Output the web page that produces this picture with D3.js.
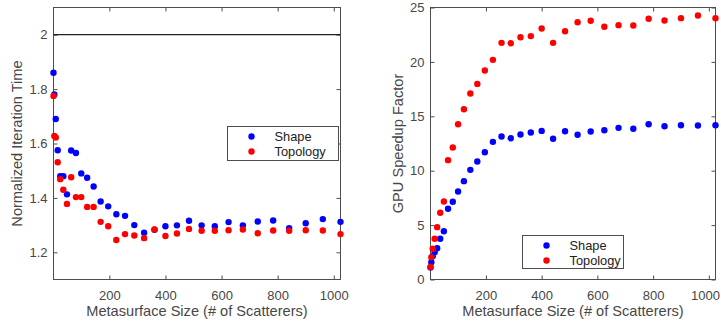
<!DOCTYPE html>
<html><head><meta charset="utf-8">
<script src="https://cdn.jsdelivr.net/npm/d3@7"></script>
<style>body{margin:0;background:#fff}svg{display:block}</style>
</head><body>
<svg id="c" width="721" height="322"></svg>
<script>
// ---- data ----
const sizes = [1,4,9,16,25,36,49,64,81,100,121,144,169,196,225,256,289,324,361,400,441,484,529,576,625,676,729,784,841,900,961,1024];
const iterShape = [1.86,1.78,1.69,1.575,1.48,1.48,1.413,1.574,1.565,1.49,1.474,1.442,1.387,1.369,1.34,1.334,1.30,1.272,1.283,1.296,1.299,1.316,1.299,1.296,1.311,1.299,1.313,1.317,1.289,1.307,1.322,1.312];
const iterTopology = [1.775,1.628,1.622,1.531,1.469,1.43,1.378,1.476,1.403,1.403,1.367,1.367,1.312,1.296,1.245,1.267,1.262,1.252,1.284,1.26,1.269,1.286,1.279,1.279,1.281,1.284,1.27,1.28,1.279,1.281,1.28,1.267];
const speedShape = [1.1,1.59,2.14,2.51,2.88,3.74,4.44,6.5,7.15,8.09,9.04,10.08,10.85,11.7,12.65,13.15,12.98,13.33,13.51,13.66,12.93,13.63,13.3,13.6,13.72,13.94,13.85,14.27,14.09,14.18,14.15,14.18];
const speedTopology = [1.15,2.05,2.82,3.74,4.81,6.13,7.17,10.97,12.13,14.27,15.65,17.1,17.98,19.21,20.19,21.75,21.72,22.27,22.37,23.07,21.75,22.82,23.65,23.78,23.23,23.38,23.35,23.96,23.81,24.02,24.26,24.02];
const xTicks = [200,400,600,800,1000];
const iterTicks = [1.2,1.4,1.6,1.8,2];
const speedTicks = [0,5,10,15,20,25];
const seriesNames = ["Shape","Topology"];
const seriesColors = ["#0000ff","#ff0000"];
const xLabel = "Metasurface Size (# of Scatterers)";

const FONT = "'Liberation Sans', Arial, Helvetica, sans-serif";
const AX = "#4d4d4d";
const TXT = "#474747";
const svg = d3.select("#c");

function panel(o){
  const x = d3.scaleLinear().domain([1,1024]).range([o.x0,o.x1]);
  const y = d3.scaleLinear().domain(o.yDomain).range([o.y1,o.y0]);
  const g = svg.append("g");
  const tickLen = 4;
  const b = g.append("g").attr("transform",`translate(0,${o.y1})`)
    .call(d3.axisBottom(x).tickValues(xTicks).tickSizeInner(-tickLen).tickSizeOuter(0).tickPadding(11).tickFormat(d3.format("d")));
  const t = g.append("g").attr("transform",`translate(0,${o.y0})`)
    .call(d3.axisTop(x).tickValues(xTicks).tickSizeInner(-tickLen).tickSizeOuter(0).tickFormat(""));
  const l = g.append("g").attr("transform",`translate(${o.x0},0)`)
    .call(d3.axisLeft(y).tickValues(o.yTicks).tickSizeInner(-tickLen).tickSizeOuter(0).tickPadding(6).tickFormat(o.fmt));
  const r = g.append("g").attr("transform",`translate(${o.x1},0)`)
    .call(d3.axisRight(y).tickValues(o.yTicks).tickSizeInner(-tickLen).tickSizeOuter(0).tickFormat(""));
  [b,t,l,r].forEach(a=>{
    a.select(".domain").remove();
    a.selectAll("line").attr("stroke",AX);
    a.selectAll("text").attr("fill",TXT).style("font-family",FONT).style("font-size","13px");
  });
  // keep the last x tick label inside the page
  b.selectAll(".tick text").each(function(d){
    const bb = this.getBBox();
    const tr = d3.select(this.parentNode).attr("transform");
    const tx = +tr.match(/translate\(([-\d.]+)/)[1];
    if (tx + bb.x + bb.width > 720) d3.select(this).attr("text-anchor","end").attr("x", 720 - tx);
  });
  g.append("rect").attr("x",o.x0).attr("y",o.y0).attr("width",o.x1-o.x0).attr("height",o.y1-o.y0)
    .attr("fill","none").attr("stroke",AX).attr("stroke-width",1);
  if(o.refLine!==undefined){
    g.append("line").attr("x1",o.x0).attr("x2",o.x1).attr("y1",y(o.refLine)).attr("y2",y(o.refLine))
      .attr("stroke","#222").attr("stroke-width",1.3);
  }
  o.series.forEach((s,i)=>{
    g.append("g").selectAll("circle").data(s).join("circle")
      .attr("cx",(d,j)=>x(sizes[j])).attr("cy",d=>y(d)).attr("r",3.2).attr("fill",seriesColors[i]);
  });
  g.append("text").attr("x",(o.x0+o.x1)/2).attr("y",316).attr("text-anchor","middle")
    .attr("fill",TXT).style("font-family",FONT).style("font-size","14.6px").text(xLabel);
  g.append("text").attr("transform",`translate(${o.ylx},${(o.y0+o.y1)/2}) rotate(-90)`).attr("text-anchor","middle")
    .attr("fill",TXT).style("font-family",FONT).style("font-size","14.6px").text(o.yLabel);
  const L = o.legend;
  const lg = g.append("g").attr("transform",`translate(${L.x},${L.y})`);
  lg.append("rect").attr("width",L.w).attr("height",L.h).attr("fill","#fff").attr("stroke",AX).attr("stroke-width",1);
  seriesNames.forEach((n,i)=>{
    lg.append("circle").attr("cx",24).attr("cy",10+i*15).attr("r",3.2).attr("fill",seriesColors[i]);
    lg.append("text").attr("x",47).attr("y",10+i*15).attr("dy","0.35em").attr("fill","#222")
      .style("font-family",FONT).style("font-size","12.8px").text(n);
  });
}

panel({x0:53.5,x1:340.5,y0:7.5,y1:279.5,yDomain:[1.1,2.1],yTicks:iterTicks,fmt:d3.format("~g"),
  series:[iterShape,iterTopology],refLine:2,yLabel:"Normalized Iteration Time",ylx:21.5,
  legend:{x:227.5,y:126.5,w:111,h:34}});
panel({x0:430.5,x1:715.5,y0:7.5,y1:279.5,yDomain:[0,25],yTicks:speedTicks,fmt:d3.format("d"),
  series:[speedShape,speedTopology],yLabel:"GPU Speedup Factor",ylx:402.5,
  legend:{x:522.5,y:235.5,w:101,h:33}});
</script>
</body></html>
